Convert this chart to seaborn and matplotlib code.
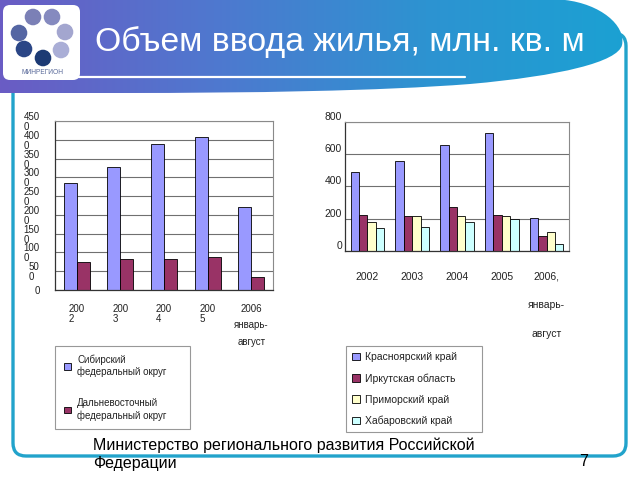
import numpy as np
import pandas as pd
import matplotlib
matplotlib.use("Agg")
import matplotlib.pyplot as plt
import matplotlib.patches as mpatches
from matplotlib.path import Path
from matplotlib.colors import LinearSegmentedColormap
import seaborn as sns

# ---------------- data ----------------
YEARS = ["2002", "2003", "2004", "2005", "2006"]
LEFT_XLABELS = ["200\n2", "200\n3", "200\n4", "200\n5", "2006\nянварь-\nавгуст"]
RIGHT_XLABELS = ["2002", "2003", "2004", "2005", "2006,\nянварь-\nавгуст"]

LEFT_SERIES = ["Сибирский\nфедеральный округ", "Дальневосточный\nфедеральный округ"]
SIBERIAN = [284, 328, 390, 408, 221]
FAR_EAST = [75, 82, 82, 89, 35]

RIGHT_SERIES = ["Красноярский край", "Иркутская область", "Приморский край", "Хабаровский край"]
KRASNOYARSK = [491, 557, 655, 731, 203]
IRKUTSK = [224, 214, 270, 224, 93]
PRIMORSKY = [180, 214, 214, 214, 114]
KHABAROVSK = [139, 147, 180, 195, 40]

LEFT_YTICKS = [0, 50, 100, 150, 200, 250, 300, 350, 400, 450]
LEFT_YTICKLABELS = ["0", "50\n0", "100\n0", "150\n0", "200\n0", "250\n0",
                    "300\n0", "350\n0", "400\n0", "450\n0"]
RIGHT_YTICKS = [0, 200, 400, 600, 800]
RIGHT_YTICKLABELS = ["0", "200", "400", "600", "800"]

TITLE = "Объем ввода жилья, млн. кв. м"
FOOTER = "Министерство регионального развития Российской\nФедерации"
PAGE = "7"
LOGO_TEXT = "МИНРЕГИОН"

LEFT_COLORS = ["#9999FF", "#993366"]
RIGHT_COLORS = ["#9999FF", "#993366", "#FFFFCC", "#CCFFFF"]

# ---------------- setup ----------------
sns.set_style("white")
plt.rcParams["font.family"] = ["Liberation Sans", "DejaVu Sans"]
TXT = "#222222"

W, H = 640, 480
fig = plt.figure(figsize=(6.4, 4.8), dpi=100)
fig.patch.set_facecolor("white")

# background / decoration axes in pixel coordinates
bg = fig.add_axes([0, 0, 1, 1], zorder=0)
bg.set_xlim(0, W)
bg.set_ylim(H, 0)
bg.axis("off")

# frame
frame = mpatches.FancyBboxPatch((13, 33), 613, 423,
                                boxstyle="round,pad=0,rounding_size=13",
                                facecolor="none", edgecolor="#22a3cb", lw=2.4, zorder=1)
bg.add_patch(frame)

# header gradient shape
verts = [(0, 0), (565, 0),
         (600, 4), (626, 25), (622, 45),
         (618, 62), (560, 76), (470, 84),
         (380, 91), (250, 93), (120, 93),
         (0, 93), (0, 0)]
codes = [Path.MOVETO, Path.LINETO,
         Path.CURVE4, Path.CURVE4, Path.CURVE4,
         Path.CURVE4, Path.CURVE4, Path.CURVE4,
         Path.CURVE4, Path.CURVE4, Path.CURVE4,
         Path.LINETO, Path.CLOSEPOLY]
hpath = Path(verts, codes)
hpatch = mpatches.PathPatch(hpath, facecolor="none", edgecolor="none", zorder=2)
bg.add_patch(hpatch)
cmap = LinearSegmentedColormap.from_list("hdr", ["#6a5cc4", "#4f78cf", "#2d93d1", "#1aa2d3"])
grad = np.linspace(0, 1, 256).reshape(1, -1)
im = bg.imshow(grad, cmap=cmap, extent=(0, 640, 100, 0), aspect="auto", zorder=2)
im.set_clip_path(hpatch)
bg.set_xlim(0, W)
bg.set_ylim(H, 0)

# underline
bg.plot([75, 465], [77, 77], color="white", lw=1.6, zorder=3)

# logo
logo = mpatches.FancyBboxPatch((3, 5), 77, 75, boxstyle="round,pad=0,rounding_size=7",
                               facecolor="white", edgecolor="none", zorder=3)
bg.add_patch(logo)
circles = [((33, 17), "#7b80b6"), ((52, 17), "#858abf"), ((65, 32), "#a3a6cf"),
           ((61, 50), "#aaaed6"), ((43, 58), "#1c3a74"), ((24, 49), "#2b4686"),
           ((19, 33), "#5566a3")]
for (cx, cy), c in circles:
    bg.add_patch(mpatches.Circle((cx, cy), 8.3, facecolor=c, edgecolor="none", zorder=4))
bg.text(42, 72, LOGO_TEXT, fontsize=4.8, color="#5a6a9a", ha="center", va="center", zorder=4)

# title
bg.text(95, 42, TITLE, fontsize=24.3, color="white", ha="left", va="center", zorder=4)

# footer
bg.text(93, 454, FOOTER, fontsize=11.5, color="black", ha="left", va="center",
        linespacing=1.25, zorder=4)
bg.text(579, 461, PAGE, fontsize=11.5, color="black", ha="left", va="center", zorder=4)


def style_axes(ax, ymax, ticks, ticklabels):
    ax.set_facecolor("white")
    ax.set_ylim(0, ymax)
    ax.set_xlim(-0.5, 4.5)
    ax.set_yticks(ticks)
    ax.set_yticklabels(ticklabels)
    ax.yaxis.grid(True, color="#707070", lw=0.8)
    ax.xaxis.grid(False)
    ax.set_axisbelow(True)
    for s in ["top", "right"]:
        ax.spines[s].set_color("#8a8a8a")
        ax.spines[s].set_linewidth(0.8)
    for s in ["left", "bottom"]:
        ax.spines[s].set_color("#333333")
        ax.spines[s].set_linewidth(0.9)
    ax.set_xticks(np.arange(-0.5, 5.0, 1.0), minor=True)
    ax.tick_params(axis="x", which="minor", length=4, direction="out", color="#333333", width=0.9)
    ax.tick_params(axis="y", length=0)
    ax.set_xlabel("")
    ax.set_ylabel("")


# ---------------- left chart ----------------
axL = fig.add_axes([55 / W, 1 - 290 / H, 218 / W, 169 / H], zorder=5)
df_left = pd.DataFrame({
    "year": YEARS * 2,
    "value": SIBERIAN + FAR_EAST,
    "series": [LEFT_SERIES[0]] * 5 + [LEFT_SERIES[1]] * 5,
})
sns.barplot(data=df_left, x="year", y="value", hue="series", order=YEARS,
            hue_order=LEFT_SERIES, palette=LEFT_COLORS, saturation=1, width=0.6,
            edgecolor="black", linewidth=0.6, errorbar=None, ax=axL)
style_axes(axL, 450, LEFT_YTICKS, LEFT_YTICKLABELS)
axL.set_xticks(range(5))
axL.set_xticklabels(LEFT_XLABELS)
axL.tick_params(axis="x", which="major", length=0, pad=10, labelsize=7, labelcolor=TXT)
axL.tick_params(axis="y", pad=11, labelsize=7, labelcolor=TXT)
for i, lab in enumerate(axL.get_xticklabels()):
    if i < 4:
        lab.set_multialignment("left")
        lab.set_linespacing(1.05)
    else:
        lab.set_multialignment("center")
        lab.set_linespacing(1.8)
for lab in axL.get_yticklabels():
    lab.set_va("center_baseline")
    lab.set_ha("right")
    lab.set_multialignment("left")
    lab.set_linespacing(1.0)

hL, lL = axL.get_legend_handles_labels()
axL.get_legend().remove()
legL = fig.legend(hL, lL, loc="upper left", bbox_to_anchor=(55 / W, 1 - 346 / H - 0.01, 135 / W, 0.01),
                  mode="expand", bbox_transform=fig.transFigure, borderaxespad=0,
                  fontsize=7, labelspacing=2.15, borderpad=0.9, handlelength=0.7,
                  handleheight=0.7, handletextpad=0.7, fancybox=False, frameon=True,
                  labelcolor=TXT)
legL.get_frame().set_edgecolor("#7f7f7f")
legL.get_frame().set_linewidth(0.8)

# ---------------- right chart ----------------
axR = fig.add_axes([345 / W, 1 - 250.7 / H, 224 / W, 128.7 / H], zorder=5)
df_right = pd.DataFrame({
    "year": YEARS * 4,
    "value": KRASNOYARSK + IRKUTSK + PRIMORSKY + KHABAROVSK,
    "series": sum([[s] * 5 for s in RIGHT_SERIES], []),
})
sns.barplot(data=df_right, x="year", y="value", hue="series", order=YEARS,
            hue_order=RIGHT_SERIES, palette=RIGHT_COLORS, saturation=1, width=0.75,
            edgecolor="black", linewidth=0.6, errorbar=None, ax=axR)
style_axes(axR, 800, RIGHT_YTICKS, RIGHT_YTICKLABELS)
axR.set_xticks(range(5))
axR.set_xticklabels(RIGHT_XLABELS)
axR.tick_params(axis="x", which="major", length=0, pad=15, labelsize=7.5, labelcolor=TXT)
axR.tick_params(axis="y", pad=2, labelsize=7.5, labelcolor=TXT)
for i, lab in enumerate(axR.get_xticklabels()):
    lab.set_multialignment("center")
    lab.set_linespacing(3.35)
for lab in axR.get_yticklabels():
    lab.set_va("bottom")

hR, lR = axR.get_legend_handles_labels()
axR.get_legend().remove()
legR = fig.legend(hR, lR, loc="upper left", bbox_to_anchor=(346 / W, 1 - 346 / H - 0.01, 136 / W, 0.01),
                  mode="expand", bbox_transform=fig.transFigure, borderaxespad=0,
                  fontsize=7.5, labelspacing=1.05, borderpad=0.6, handlelength=0.7,
                  handleheight=0.7, handletextpad=0.5, fancybox=False, frameon=True,
                  labelcolor=TXT)
legR.get_frame().set_edgecolor("#7f7f7f")
legR.get_frame().set_linewidth(0.8)

fig.savefig("out.png", dpi=100, facecolor="white")
